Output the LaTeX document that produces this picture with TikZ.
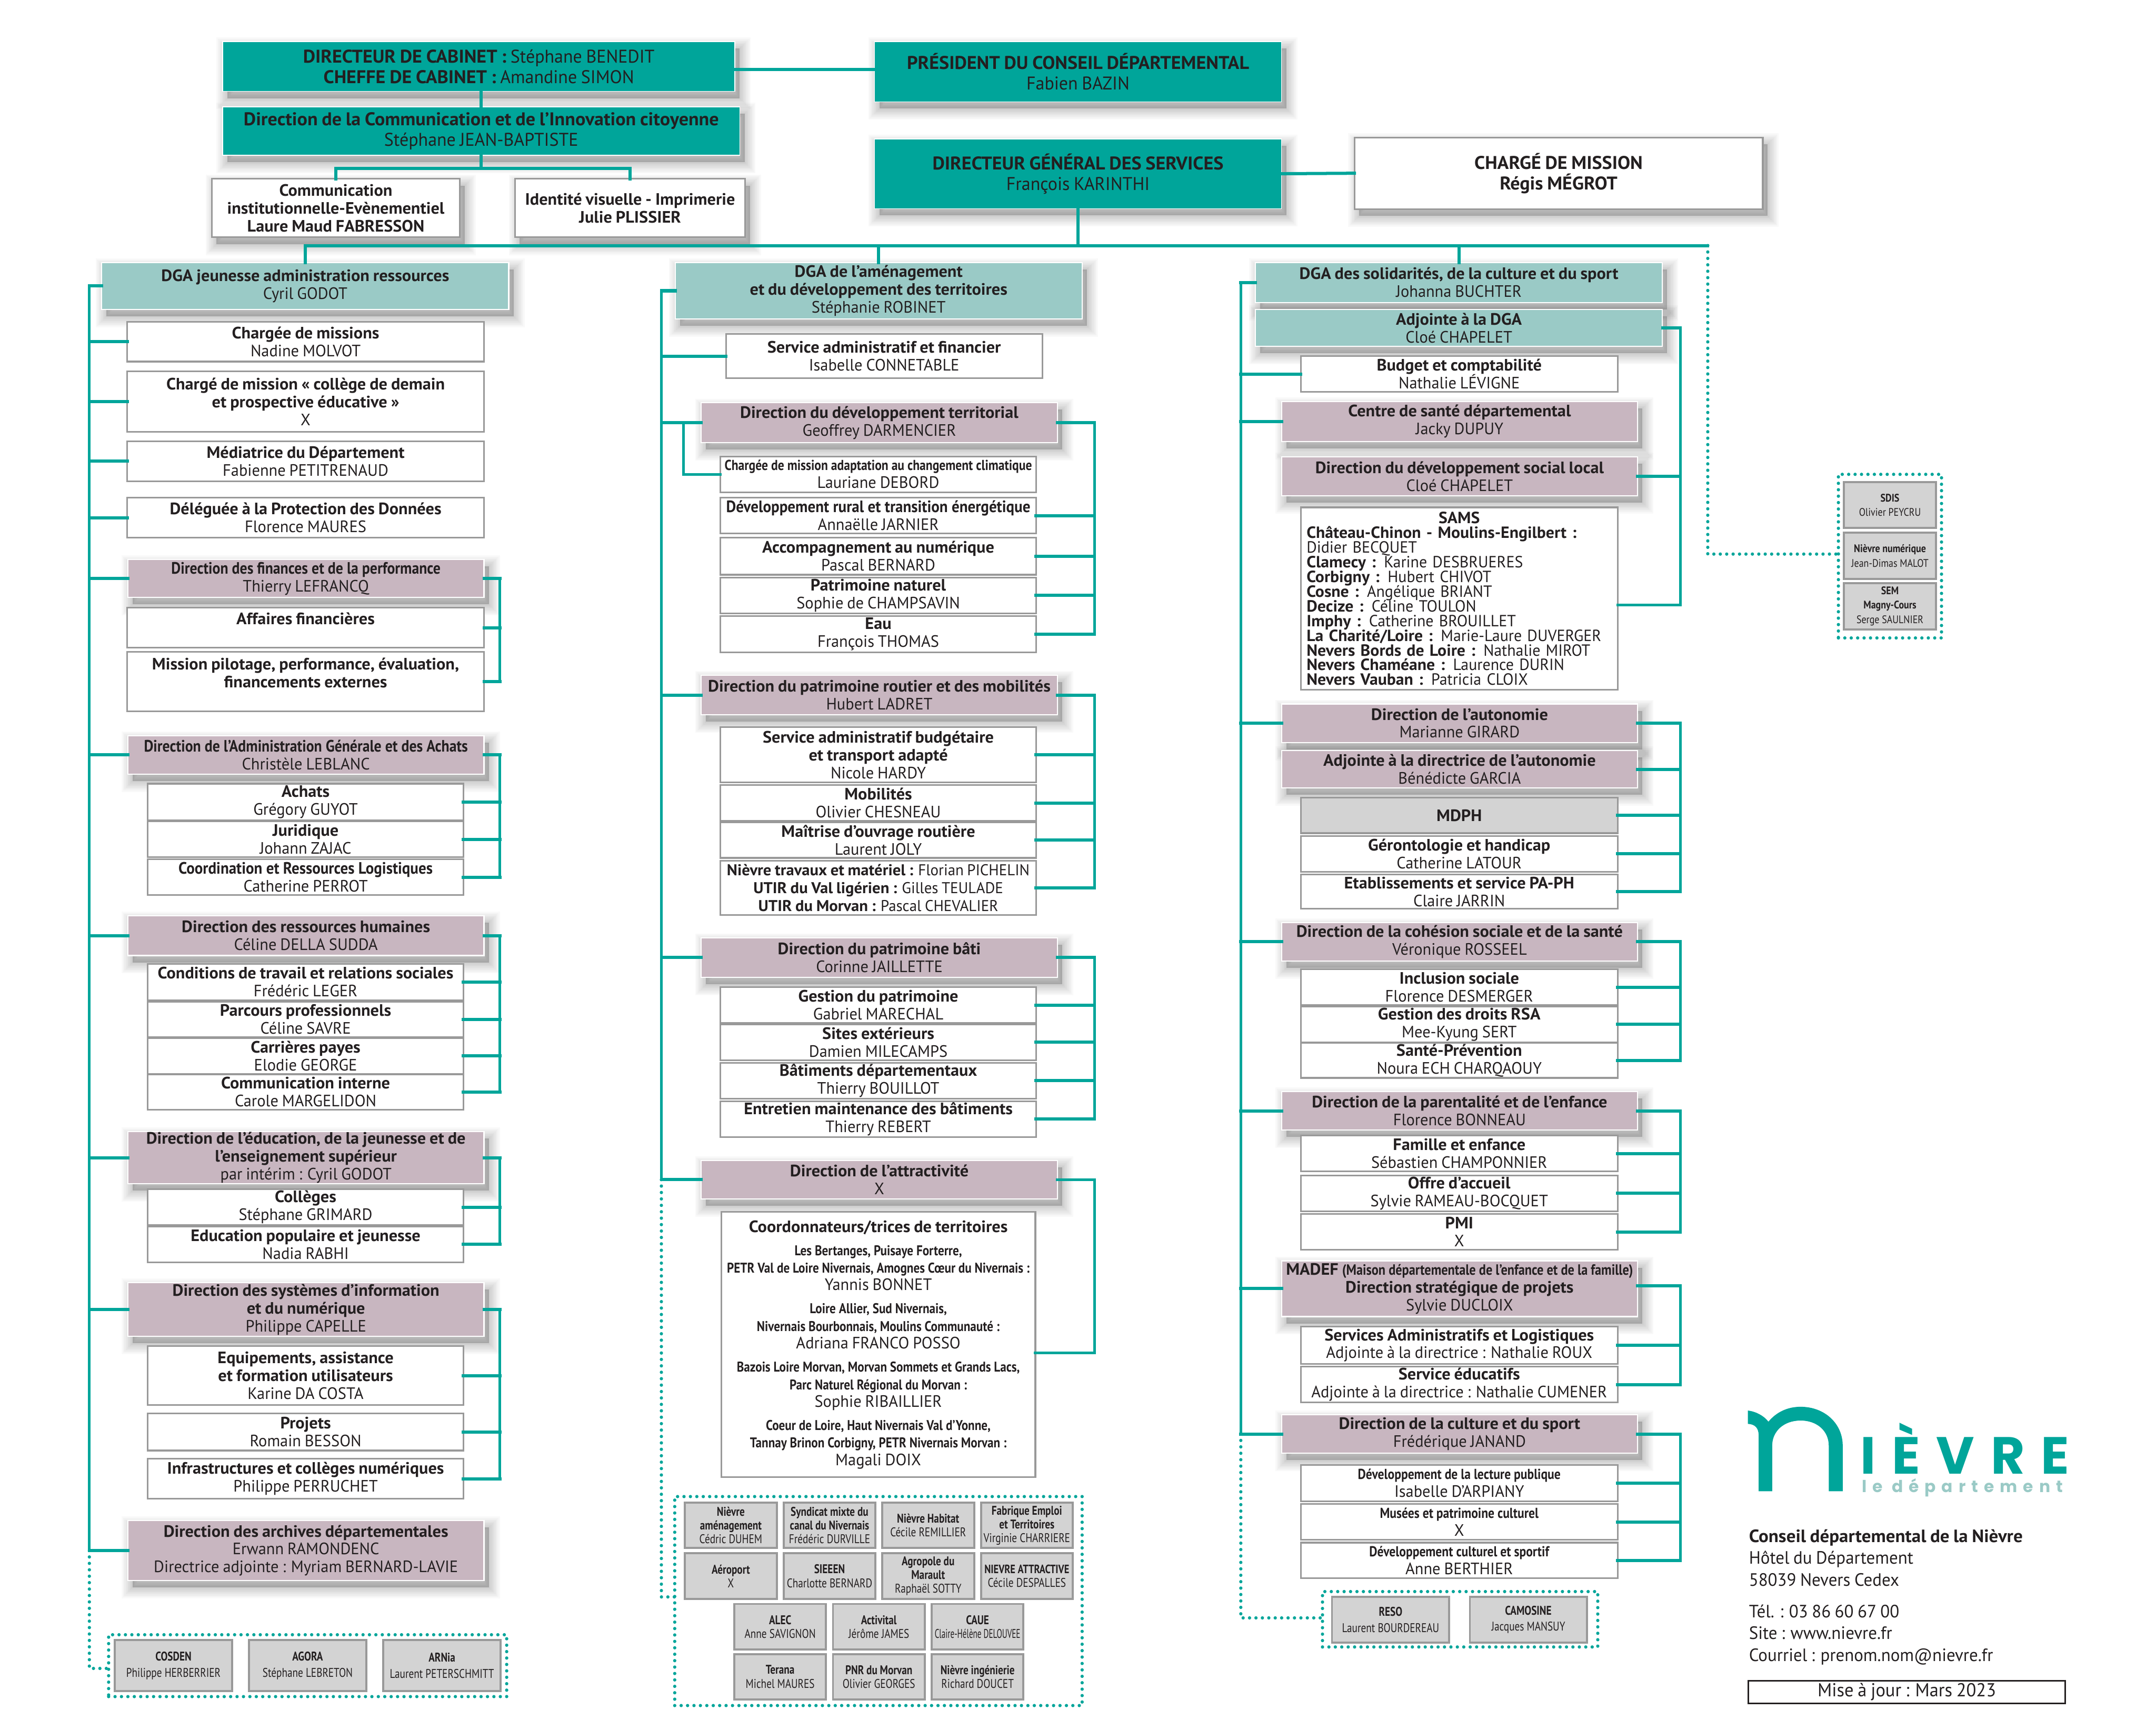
\documentclass[tikz,border=0pt]{standalone}
\usepackage{fontspec}
\normallineskiplimit=-100pt
\lineskiplimit=-100pt
\setmainfont[FakeStretch=.97,WordSpace=.85,BoldFeatures={FakeStretch=1.03}]{PT Sans}
\newfontfamily\cond[FakeStretch=.8]{PT Sans}
\newfontfamily\condb[FakeStretch=.86]{PT Sans}
\newfontfamily\condx[FakeStretch=.63]{PT Sans}
\newfontfamily\semi[FakeStretch=.885]{PT Sans}
\newfontfamily\semib[FakeStretch=.925]{PT Sans}
\newfontfamily\logoa[LetterSpace=31]{Poppins}
\newfontfamily\logob[LetterSpace=35]{Poppins}
\definecolor{tl}{HTML}{00A59A}
\definecolor{ltl}{HTML}{9ACAC6}
\definecolor{mv}{HTML}{C8B6C0}
\definecolor{gr}{HTML}{999999}
\definecolor{gf}{HTML}{D3D3D3}
\definecolor{ink}{HTML}{231F20}
\tikzset{
 every node/.style={inner sep=0pt,outer sep=0pt,align=center,text=ink},
 fh/.style={font=\fontsize{13.4}{15}\selectfont},
 fm/.style={font=\fontsize{12}{13}\selectfont},
 fs/.style={font=\cond\fontsize{9.2}{10}\selectfont},
 sh/.style={preaction={draw=black,fill=black,line width=#1,opacity=.022,transform canvas={shift={(3.5pt,-5pt)}}}},
 softshadow/.style={sh=16pt,sh=14pt,sh=12pt,sh=10pt,sh=8pt,sh=6pt,sh=4pt,sh=2pt},
 topbox/.style={fill=tl,draw=white,line width=.6pt,softshadow,fh},
 dgabox/.style={fill=ltl,draw=white,line width=.8pt,softshadow,fm},
 mvbox/.style={fill=mv,draw=white,line width=.8pt,softshadow,fm},
 wbox/.style={fill=white,draw=gr,line width=1.2pt,fm},
 wsbox/.style={wbox,softshadow},
 gbox/.style={fill=gf,draw=gr,line width=1.5pt,fs},
 gboxw/.style={gbox,font=\cond\fontsize{9.2}{11.8}\selectfont},
 ebox/.style={gbox,font=\condb\fontsize{8}{10.5}\selectfont},
 dotbox/.style={draw=tl,line width=2.4pt,dash pattern=on 0pt off 4.67pt,line cap=round},
 bus/.style={draw=tl,line width=2.3pt,line cap=rect},
 dots/.style={draw=tl,line width=2.4pt,dash pattern=on 0pt off 4.67pt,line cap=round},
}
\newcommand\bx[8][]{\node[#7,minimum width={(#5)-(#3)},minimum height={(#6)-(#4)},#1] (#2) at ({((#3)+(#5))/2},{((#4)+(#6))/2}) {#8};}
\newcommand\pn[2]{\textbf{#1}\\#2}
\newcommand\pnn[2]{{\semi\bfseries #1}\\#2}
\newcommand\pnb[2]{{\semib\bfseries #1}\\#2}
\newcommand\cb[1]{{\condb\bfseries\fontsize{10.5}{13}\selectfont #1}}
\newcommand\railE[3]{\foreach \n in {#3} \draw[bus] (\n.east) -- (\n.east -| #1);}
\newcommand\railW[2]{\foreach \n in {#2} \draw[bus] (\n.west) -- (\n.west -| #1);}
\begin{document}
\begin{tikzpicture}[x=1pt,y=-1pt]
\useasboundingbox (0,0) rectangle (1568,1258.2);
\fill[white] (0,0) rectangle (1568,1258.2);
\coordinate (busy) at (0,178.6);
\coordinate (rl1) at (65,0);\coordinate (rr1) at (363.5,0);
\coordinate (rl2) at (481,0);\coordinate (rl2b) at (497,0);\coordinate (rr2) at (796,0);
\coordinate (rl3) at (902.4,0);\coordinate (rr3) at (1222,0);
\coordinate (dgo) at (1242,0);

% top
\bx{cab}{162}{30.3}{534.5}{66.4}{topbox}{\textbf{DIRECTEUR DE CABINET :} Stéphane BENEDIT\\\textbf{CHEFFE DE CABINET :} Amandine SIMON}
\bx{com}{162}{77.8}{538}{113}{topbox}{\textbf{Direction de la Communication et de l’Innovation citoyenne}\\Stéphane JEAN-BAPTISTE}
\bx{comi}{154}{130}{334.5}{172.5}{wsbox,fm}{\textbf{Communication}\\\textbf{institutionnelle-Evènementiel}\\\textbf{Laure Maud FABRESSON}}
\bx{idv}{374.5}{130}{542}{172.5}{wsbox}{\textbf{Identité visuelle - Imprimerie}\\\textbf{Julie PLISSIER}}
\bx{pres}{636}{30.3}{932}{74}{topbox}{\textbf{PRÉSIDENT DU CONSEIL DÉPARTEMENTAL}\\Fabien BAZIN}
\bx{dgs}{636}{101}{932}{151.7}{topbox}{\textbf{DIRECTEUR GÉNÉRAL DES SERVICES}\\François KARINTHI}
\bx{cmm}{985}{100}{1282}{152}{wsbox,fh}{\textbf{CHARGÉ DE MISSION}\\\textbf{Régis MÉGROT}}

% column 1
\bx{dj}{74}{191}{370}{225}{dgabox}{\pn{DGA jeunesse administration ressources}{Cyril GODOT}}
\bx{a1}{92.5}{234}{352}{263}{wbox}{\pn{Chargée de missions}{Nadine MOLVOT}}
\bx{a2}{92.5}{270}{352}{314}{wbox}{\textbf{Chargé de mission « collège de demain}\\\textbf{et prospective éducative »}\\X}
\bx{a3}{92.5}{321}{352}{350}{wbox}{\pn{Médiatrice du Département}{Fabienne PETITRENAUD}}
\bx{a4}{92.5}{362}{352}{391}{wbox}{\pn{Déléguée à la Protection des Données}{Florence MAURES}}
\bx{fi}{93}{407}{352}{434.6}{mvbox}{\pnn{Direction des finances et de la performance}{Thierry LEFRANCQ}}
\bx{fi1}{92.5}{442}{352}{471}{wbox}{\textbf{Affaires financières}\\\mbox{}}
\bx{fi2}{92.5}{474}{352}{517.5}{wbox}{\textbf{Mission pilotage, performance, évaluation,}\\\textbf{financements externes}\\\mbox{}}
\bx{da}{93}{535}{352}{563}{mvbox}{\pnn{Direction de l’Administration Générale et des Achats}{Christèle LEBLANC}}
\bx{da1}{107.5}{570}{337}{596.5}{wbox}{\pn{Achats}{Grégory GUYOT}}
\bx{da2}{107.5}{597.5}{337}{623.5}{wbox}{\pn{Juridique}{Johann ZAJAC}}
\bx{da3}{107.5}{625}{337}{651}{wbox}{\pnb{Coordination et Ressources Logistiques}{Catherine PERROT}}
\bx{rh}{93}{666}{352}{695}{mvbox}{\pn{Direction des ressources humaines}{Céline DELLA SUDDA}}
\bx{rh1}{107.5}{701}{337}{727.5}{wbox}{\pn{Conditions de travail et relations sociales}{Frédéric LEGER}}
\bx{rh2}{107.5}{728.5}{337}{754.5}{wbox}{\pn{Parcours professionnels}{Céline SAVRE}}
\bx{rh3}{107.5}{755}{337}{781}{wbox}{\pn{Carrières payes}{Elodie GEORGE}}
\bx{rh4}{107.5}{781.5}{337}{807}{wbox}{\pn{Communication interne}{Carole MARGELIDON}}
\bx{ed}{93}{823}{352}{861}{mvbox}{\textbf{Direction de l’éducation, de la jeunesse et de}\\\textbf{l’enseignement supérieur}\\par intérim : Cyril GODOT}
\bx{ed1}{107.5}{865}{337}{891}{wbox}{\pn{Collèges}{Stéphane GRIMARD}}
\bx{ed2}{107.5}{892}{337}{918}{wbox}{\pn{Education populaire et jeunesse}{Nadia RABHI}}
\bx{si}{93}{933}{352}{972}{mvbox}{\textbf{Direction des systèmes d’information}\\\textbf{et du numérique}\\Philippe CAPELLE}
\bx{si1}{107.5}{979}{337}{1022}{wbox}{\textbf{Equipements, assistance}\\\textbf{et formation utilisateurs}\\Karine DA COSTA}
\bx{si2}{107.5}{1028}{337}{1055}{wbox}{\pn{Projets}{Romain BESSON}}
\bx{si3}{107.5}{1061}{337}{1090}{wbox}{\pn{Infrastructures et collèges numériques}{Philippe PERRUCHET}}
\bx{ar}{93}{1106}{352}{1149.5}{mvbox}{\textbf{Direction des archives départementales}\\Erwann RAMONDENC\\Directrice adjointe : Myriam BERNARD-LAVIE}
\bx{d1}{79}{1189}{368.5}{1234}{dotbox}{}
\bx{c1}{83.5}{1193}{168.8}{1229.8}{gboxw}{\pn{COSDEN}{Philippe HERBERRIER}}
\bx{c2}{181}{1193}{266.5}{1229.8}{gboxw}{\pn{AGORA}{Stéphane LEBRETON}}
\bx{c3}{278.8}{1193}{364}{1229.8}{gboxw}{\pn{ARNia}{Laurent PETERSCHMITT}}

% column 2
\bx{dm}{491}{191}{787}{232}{dgabox}{\textbf{DGA de l’aménagement}\\\textbf{et du développement des territoires}\\Stéphanie ROBINET}
\bx{b0}{528}{243}{758}{275}{wbox}{\pn{Service administratif et financier}{Isabelle CONNETABLE}}
\bx{dt}{510}{293}{769}{322}{mvbox}{\pn{Direction du développement territorial}{Geoffrey DARMENCIER}}
\bx{dt0}{524}{332}{753.5}{358}{wbox}{\cb{Chargée de mission adaptation au changement climatique}\\Lauriane DEBORD}
\bx{dt1}{524}{362}{753.5}{388}{wbox}{\pnb{Développement rural et transition énergétique}{Annaëlle JARNIER}}
\bx{dt2}{524}{391}{753.5}{418}{wbox}{\pn{Accompagnement au numérique}{Pascal BERNARD}}
\bx{dt3}{524}{420}{753.5}{446}{wbox}{\pn{Patrimoine naturel}{Sophie de CHAMPSAVIN}}
\bx{dt4}{524}{448}{753.5}{474.5}{wbox}{\pn{Eau}{François THOMAS}}
\bx{pr}{510}{491}{769}{520}{mvbox}{\pn{Direction du patrimoine routier et des mobilités}{Hubert LADRET}}
\bx{pr1}{524}{529}{753.5}{569}{wbox}{\textbf{Service administratif budgétaire}\\\textbf{et transport adapté}\\Nicole HARDY}
\bx{pr2}{524}{571}{753.5}{597}{wbox}{\pn{Mobilités}{Olivier CHESNEAU}}
\bx{pr3}{524}{598}{753.5}{624}{wbox}{\pn{Maîtrise d’ouvrage routière}{Laurent JOLY}}
\bx{pr4}{524}{626}{753.5}{665.5}{wbox,font=\fontsize{11.4}{13}\selectfont}{\textbf{Nièvre travaux et matériel :} Florian PICHELIN\\\textbf{UTIR du Val ligérien :} Gilles TEULADE\\\textbf{UTIR du Morvan :} Pascal CHEVALIER}
\bx{pb}{510}{682}{769}{711}{mvbox}{\pn{Direction du patrimoine bâti}{Corinne JAILLETTE}}
\bx{pb1}{524}{718}{753.5}{744}{wbox}{\pn{Gestion du patrimoine}{Gabriel MARECHAL}}
\bx{pb2}{524}{745}{753.5}{771}{wbox}{\pn{Sites extérieurs}{Damien MILECAMPS}}
\bx{pb3}{524}{773}{753.5}{799}{wbox}{\pn{Bâtiments départementaux}{Thierry BOUILLOT}}
\bx{pb4}{524}{801}{753.5}{827}{wbox}{\pn{Entretien maintenance des bâtiments}{Thierry REBERT}}
\bx{at}{510}{844}{769}{872}{mvbox}{\pn{Direction de l’attractivité}{X}}
\newcommand\ct[1]{{\condb\bfseries\fontsize{10.3}{12.8}\selectfont #1}}
\bx{at1}{524.5}{881.5}{753}{1074.5}{wbox,font=\fontsize{12}{12.8}\selectfont}{\textbf{Coordonnateurs/trices de territoires}\\[4pt]\ct{Les Bertanges, Puisaye Forterre,}\\\ct{PETR Val de Loire Nivernais, Amognes Cœur du Nivernais  :}\\Yannis BONNET\\[4pt]\ct{Loire Allier, Sud Nivernais,}\\\ct{Nivernais Bourbonnais, Moulins Communauté :}\\Adriana FRANCO POSSO\\[4pt]\ct{Bazois Loire Morvan,  Morvan Sommets et Grands Lacs,}\\\ct{Parc Naturel Régional du Morvan :}\\Sophie RIBAILLIER\\[4pt]\ct{Coeur de Loire, Haut Nivernais Val d’Yonne,}\\\ct{Tannay Brinon Corbigny, PETR Nivernais Morvan :}\\Magali DOIX}
\bx{d2}{490.7}{1088.5}{787}{1240.5}{dotbox}{}
\bx{s1}{498}{1093}{565}{1126}{gbox}{\pn{Nièvre}{\textbf{aménagement}}\\Cédric DUHEM}
\bx{s2}{570}{1093}{636.6}{1126}{gbox}{\pn{Syndicat mixte du}{\textbf{canal du Nivernais}}\\Frédéric DURVILLE}
\bx{s3}{641.5}{1093}{708.5}{1126}{gbox}{\pn{Nièvre Habitat}{Cécile REMILLIER}}
\bx{s4}{713.6}{1093}{780}{1126}{gbox}{\pn{Fabrique Emploi}{\textbf{et Territoires}}\\Virginie CHARRIERE}
\bx{s5}{498}{1129.7}{565}{1163}{gbox}{\pn{Aéroport}{X}}
\bx{s6}{570}{1129.7}{636.6}{1163}{gbox}{\pn{SIEEEN}{Charlotte BERNARD}}
\bx{s7}{641.5}{1129.7}{708.5}{1163}{gbox}{\pn{Agropole du}{\textbf{Marault}}\\Raphaël SOTTY}
\bx{s8}{713.6}{1129.7}{780}{1163}{gbox}{{\bfseries\fontsize{8.8}{10}\selectfont NIEVRE ATTRACTIVE}\\Cécile DESPALLES}
\bx{s9}{534}{1166.6}{600.8}{1199.8}{gbox}{\pn{ALEC}{Anne SAVIGNON}}
\bx{s10}{605.8}{1166.6}{672.6}{1199.8}{gbox}{\pn{Activital}{Jérôme JAMES}}
\bx{s11}{677.6}{1166.6}{744.3}{1199.8}{gbox}{\textbf{CAUE}\\{\condx Claire-Hélène DELOUVEE}}
\bx{s12}{534}{1203}{600.8}{1236}{gbox}{\pn{Terana}{Michel MAURES}}
\bx{s13}{605.8}{1203}{672.6}{1236}{gbox}{\pn{PNR du Morvan}{Olivier GEORGES}}
\bx{s14}{677.6}{1203}{744.3}{1236}{gbox}{\pn{Nièvre ingénierie}{Richard DOUCET}}

% column 3
\bx{ds}{913}{191}{1209}{220}{dgabox}{\pn{DGA des solidarités, de la culture et du sport}{Johanna BUCHTER}}
\bx{ad}{913}{225}{1209}{252}{dgabox}{\pn{Adjointe à la DGA}{Cloé CHAPELET}}
\bx{bu}{946}{259}{1176.5}{285}{wbox}{\pn{Budget et comptabilité}{Nathalie LÉVIGNE}}
\bx{cs}{932}{292}{1191}{321}{mvbox}{\pn{Centre de santé départemental}{Jacky DUPUY}}
\bx{dl}{932}{332.4}{1191}{360.5}{mvbox}{\pn{Direction du développement social local}{Cloé CHAPELET}}
\bx[text width=222pt,align=left,font=\fontsize{11.8}{10.7}\selectfont]{sa}{946}{369}{1176.5}{501.8}{wbox}{\makebox[222pt]{\textbf{SAMS}}\\\textbf{Château-Chinon - Moulins-Engilbert :}\\Didier BECQUET\\\textbf{Clamecy :} Karine DESBRUERES\\\textbf{Corbigny :} Hubert CHIVOT\\\textbf{Cosne :} Angélique BRIANT\\\textbf{Decize :} Céline TOULON\\\textbf{Imphy :} Catherine BROUILLET\\\textbf{La Charité/Loire :} Marie-Laure DUVERGER\\\textbf{Nevers Bords de Loire :}  Nathalie MIROT\\\textbf{Nevers Chaméane :} Laurence DURIN\\\textbf{Nevers Vauban :} Patricia CLOIX}
\bx{au}{932}{512}{1191}{540}{mvbox}{\pn{Direction de l’autonomie}{Marianne GIRARD}}
\bx{au0}{932}{546}{1191}{573}{mvbox}{\pn{Adjointe à la directrice de l’autonomie}{Bénédicte GARCIA}}
\bx{au1}{946}{580}{1176.5}{606}{wbox,fill=gf}{\textbf{MDPH}}
\bx{au2}{946}{608}{1176.5}{634}{wbox}{\pn{Gérontologie et handicap}{Catherine LATOUR}}
\bx{au3}{946}{636}{1176.5}{661}{wbox}{\pn{Etablissements et service PA-PH}{Claire JARRIN}}
\bx{co}{932}{671}{1191}{699}{mvbox}{\pn{Direction de la cohésion sociale et de la santé}{Véronique ROSSEEL}}
\bx{co1}{946}{705}{1176.5}{731}{wbox}{\pn{Inclusion sociale}{Florence DESMERGER}}
\bx{co2}{946}{732}{1176.5}{758}{wbox}{\pn{Gestion des droits RSA}{Mee-Kyung SERT}}
\bx{co3}{946}{758.5}{1176.5}{784}{wbox}{\pn{Santé-Prévention}{Noura ECH CHARQAOUY}}
\bx{pa}{932}{794}{1191}{822}{mvbox}{\pn{Direction de la parentalité et de l’enfance}{Florence BONNEAU}}
\bx{pa1}{946}{826}{1176.5}{852}{wbox}{\pn{Famille et enfance}{Sébastien CHAMPONNIER}}
\bx{pa2}{946}{855}{1176.5}{881}{wbox}{\pn{Offre d’accueil}{Sylvie RAMEAU-BOCQUET}}
\bx{pa3}{946}{883}{1176.5}{909}{wbox}{\pn{PMI}{X}}
\bx{ma}{932}{917}{1191}{957.6}{mvbox}{\textbf{MADEF} {\condb\bfseries\fontsize{10.8}{13}\selectfont (Maison départementale de l’enfance et de la famille)}\\\textbf{Direction stratégique de projets}\\Sylvie DUCLOIX}
\bx{ma1}{946}{965}{1176.5}{992}{wbox}{\pn{Services Administratifs et Logistiques}{Adjointe à la directrice : Nathalie ROUX}}
\bx{ma2}{946}{994}{1176.5}{1020}{wbox}{\pn{Service éducatifs}{Adjointe à la directrice : Nathalie CUMENER}}
\bx{cu}{932}{1029}{1191}{1057}{mvbox}{\pn{Direction de la culture et du sport}{Frédérique JANAND}}
\bx{cu1}{946}{1065.6}{1176.5}{1092}{wbox}{\cb{Développement de la lecture publique}\\Isabelle D’ARPIANY}
\bx{cu2}{946}{1094}{1176.5}{1120}{wbox}{\cb{Musées et patrimoine culturel}\\X}
\bx{cu3}{946}{1122}{1176.5}{1148}{wbox}{\cb{Développement culturel et sportif}\\Anne BERTHIER}
\bx{d3}{961.8}{1157.6}{1162}{1197.9}{dotbox}{}
\bx{r1}{968.7}{1161.5}{1054}{1194.6}{gboxw}{\pn{RESO}{Laurent BOURDEREAU}}
\bx{r2}{1069}{1161.5}{1154}{1194.6}{gboxw}{\pn{CAMOSINE}{Jacques MANSUY}}

% far right satellites
\bx{d4}{1337}{345}{1412}{464}{dotbox}{}
\bx{e1}{1341}{350.6}{1408}{384}{ebox}{\pn{SDIS}{Olivier PEYCRU}}
\bx{e2}{1341}{387.5}{1408}{421}{ebox}{\pn{Nièvre numérique}{Jean-Dimas MALOT}}
\bx{e3}{1341}{424}{1408}{457.7}{ebox}{\pn{SEM}{\textbf{Magny-Cours}}\\Serge SAULNIER}

% connectors: top
\draw[bus] ([yshift=-2pt]cab.east) -- ([yshift=-2pt]cab.east -| pres.west);
\draw[bus] (com.north |- cab.south) -- (com.north);
\coordinate (cy) at (0,122.6);
\draw[bus] (com.south) -- (com.south |- cy);
\draw[bus] (comi.north |- cy) -- (idv.north |- cy);
\draw[bus] (comi.north |- cy) -- (comi.north);
\draw[bus] (idv.north |- cy) -- (idv.north);
\draw[bus] (dgs.east) -- (cmm.west);
\draw[bus] (dgs.south) -- (dgs.south |- busy);
\draw[bus] (dj.north |- busy) -- (dgo |- busy);
\draw[bus] (dj.north |- busy) -- (dj.north);
\draw[bus] (dm.north |- busy) -- (dm.north);
\draw[bus] (ds.north |- busy) -- (ds.north);
\draw[dots] (dgo |- busy) -- ++(0,3) |- ([yshift=1.5pt]d4.west);

% column 1 connectors
\draw[bus,line width=2pt] (dj.west -| rl1) -- (ar.west -| rl1);
\railW{rl1}{dj,a1,a2,a3,a4,fi,da,rh,ed,si,ar}
\draw[bus,line width=2pt] (fi.east -| rr1) -- (fi2.east -| rr1);
\railE{rr1}{}{fi,fi1,fi2}
\draw[bus,line width=2pt] (da.east -| rr1) -- (da3.east -| rr1);
\railE{rr1}{}{da,da1,da2,da3}
\draw[bus,line width=2pt] (rh.east -| rr1) -- (rh4.east -| rr1);
\railE{rr1}{}{rh,rh1,rh2,rh3,rh4}
\draw[bus,line width=2pt] (ed.east -| rr1) -- (ed2.east -| rr1);
\railE{rr1}{}{ed,ed1,ed2}
\draw[bus,line width=2pt] (si.east -| rr1) -- (si3.east -| rr1);
\railE{rr1}{}{si,si1,si2,si3}
\draw[dots] (ar.west -| rl1) -- ++(0,4) |- ([yshift=-2pt]d1.west);

% column 2 connectors
\draw[bus,line width=2pt] (dm.west -| rl2) -- (at.west -| rl2);
\railW{rl2}{dm,b0,dt,pr,pb,at}
\draw[bus,line width=2pt] (dt.west -| rl2b) -- (dt0.west -| rl2b) -- (dt0.west);
\draw[bus,line width=2pt] (dt.east -| rr2) -- (dt4.east -| rr2);
\railE{rr2}{}{dt,dt1,dt2,dt3,dt4}
\draw[bus,line width=2pt] (pr.east -| rr2) -- (pr4.east -| rr2);
\railE{rr2}{}{pr,pr1,pr2,pr3,pr4}
\draw[bus,line width=2pt] (pb.east -| rr2) -- (pb4.east -| rr2);
\railE{rr2}{}{pb,pb1,pb2,pb3,pb4}
\draw[bus,line width=2pt] (at.east) -| ([yshift=-6pt]at1.east -| rr2) -- ([yshift=-6pt]at1.east);
\draw[dots] (at.west -| rl2) -- ++(0,4) |- ([yshift=3pt]d2.west);

% column 3 connectors
\draw[bus,line width=2pt] (ds.west -| rl3) -- (cu.west -| rl3);
\railW{rl3}{ds,bu,cs,au,co,pa,ma,cu}
\draw[bus,line width=2pt] (ad.east) -| ([yshift=-4.5pt]sa.east -| rr3) -- ([yshift=-4.5pt]sa.east);
\draw[bus] (dl.east) -- (dl.east -| rr3);
\draw[bus,line width=2pt] (au.east -| rr3) -- (au3.east -| rr3);
\railE{rr3}{}{au,au0,au1,au2,au3}
\draw[bus,line width=2pt] (co.east -| rr3) -- (co3.east -| rr3);
\railE{rr3}{}{co,co1,co2,co3}
\draw[bus,line width=2pt] (pa.east -| rr3) -- (pa3.east -| rr3);
\railE{rr3}{}{pa,pa1,pa2,pa3}
\draw[bus,line width=2pt] ([yshift=2pt]ma.east -| rr3) -- (ma2.east -| rr3);
\draw[bus] ([yshift=2pt]ma.east) -- ([yshift=2pt]ma.east -| rr3);
\railE{rr3}{}{ma1,ma2}
\draw[bus,line width=2pt] (cu.east -| rr3) -- (cu3.east -| rr3);
\railE{rr3}{}{cu,cu1,cu2,cu3}
\draw[dots] (cu.west -| rl3) -- ++(0,4) |- ([yshift=1pt]d3.west);

% logo
\begin{scope}[shift={(1257.9,1011.4)},x=0.16125pt,y=-0.10535pt]
\fill[tl] (82,138) .. controls (120,145) and (155,175) .. (175,215) .. controls (210,150) and (260,112) .. (320,112) .. controls (430,112) and (510,230) .. (510,380) -- (510,695) -- (447,695) -- (447,380) .. controls (447,280) and (395,207) .. (320,207) .. controls (245,207) and (192,280) .. (192,380) -- (192,695) -- (131,695) -- (131,310) .. controls (131,260) and (115,232) .. (82,230) -- cycle;
\end{scope}
\node[anchor=base west,text=tl,font=\logoa\bfseries\fontsize{38}{38}\selectfont] (logoA) at (1353,1072) {IÈVRE};
\node[anchor=base west,text=ltl,font=\logob\bfseries\fontsize{12}{14}\selectfont] (logoB) at (1354,1085.6) {le département};

% address
\node[anchor=west,align=left,font=\fontsize{13}{15.8}\selectfont] (addr1) at (1272,1133) {\textbf{Conseil départemental de la Nièvre}\\Hôtel du Département\\58039 Nevers Cedex};
\node[anchor=west,align=left,font=\fontsize{13}{15.8}\selectfont] (addr2) at (1272,1189) {Tél. : 03 86 60 67 00\\Site : www.nievre.fr\\Courriel : prenom.nom@nievre.fr};
\bx{maj}{1271.5}{1222.4}{1502}{1239}{fill=white,draw=ink,line width=1pt,font=\fontsize{13.6}{15}\selectfont}{Mise à jour : Mars 2023}
\end{tikzpicture}
\end{document}
